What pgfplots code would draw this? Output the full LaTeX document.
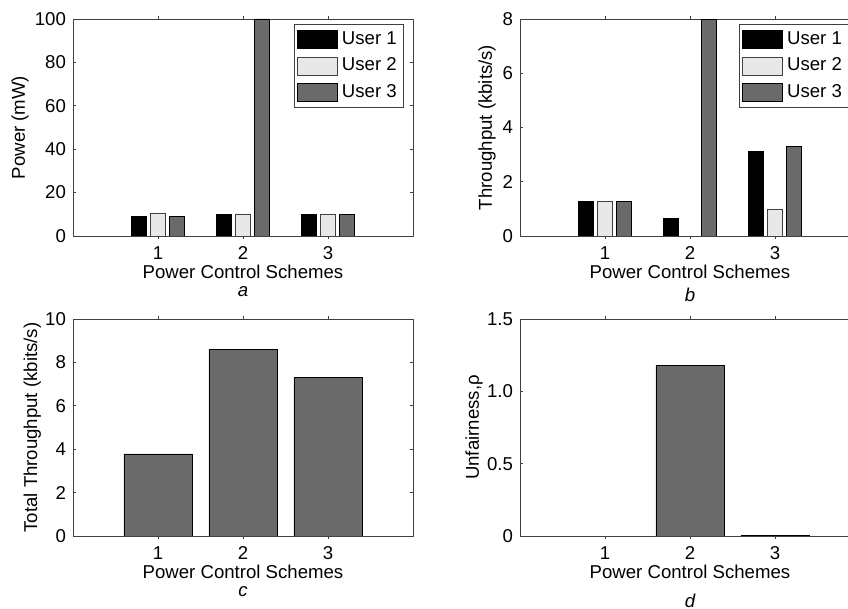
\documentclass[border=0pt]{standalone}
\usepackage{fontspec}
\setmainfont{Liberation Sans}
\usepackage{pgfplots}
\pgfplotsset{compat=1.18}
\definecolor{dgray}{HTML}{6A6A6A}
\definecolor{lgray}{HTML}{E8E8E8}
\definecolor{axgray}{HTML}{404040}
\pgfplotsset{
  mystyle/.style={
    scale only axis, width=170pt, height=108.5pt,
    xmin=0, xmax=4, xtick={1,2,3},
    tick align=inside, major tick length=1.6pt,
    axis line style={axgray},
    every tick/.style={axgray},
    font=\fontsize{9.3}{10}\selectfont,
    /pgf/number format/assume math mode=true,
    ybar, bar width=0.178,
    xlabel={Power Control Schemes},
    xlabel style={at={(axis description cs:0.5,-0.163)}, anchor=center},
    ylabel style={rotate=0, anchor=center},
    legend cell align=left,
    legend image code/.code={\draw[##1] (0pt,-4.5pt) rectangle (20pt,4.5pt);},
    legend style={draw=axgray, font=\fontsize{9.3}{10}\selectfont, inner sep=1.5pt, row sep=1.4pt, cells={anchor=west}},
  },
  sublabel/.style={extra description/.code={\node[font=\fontsize{9.3}{10}\selectfont\itshape] at (axis description cs:0.5,#1) {\pgfkeysvalueof{/pgfplots/sublabeltext}};}},
  sublabeltext/.initial={},
}
\begin{document}
\begin{tikzpicture}
\useasboundingbox (0pt,0pt) rectangle (424pt,304.5pt);
\clip (0pt,0pt) rectangle (424pt,304.5pt);
% panel a
\begin{axis}[mystyle, at={(36.5pt,186.5pt)}, anchor=south west,
  ymin=0, ymax=100, ytick={0,20,40,60,80,100},
  ylabel={Power (mW)},
  ylabel style={at={(axis description cs:-0.156,0.5)}},
  legend style={at={(axis description cs:0.974,0.977)}, anchor=north east},
  sublabeltext={a}, sublabel=-0.255]
\addplot[fill=black, draw=black, bar shift=-0.222] coordinates {(1,8.9) (2,10.1) (3,10.1)};
\addplot[fill=lgray, draw=axgray, bar shift=0] coordinates {(1,10.3) (2,10.1) (3,10.1)};
\addplot[fill=dgray, draw=black, bar shift=0.222] coordinates {(1,8.8) (2,100) (3,10.1)};
\legend{User 1, User 2, User 3}
\end{axis}
% panel b
\begin{axis}[mystyle, at={(260pt,186.5pt)}, anchor=south west,
  ymin=0, ymax=8, ytick={0,2,4,6,8},
  ylabel={Throughput (kbits/s)},
  ylabel style={at={(axis description cs:-0.097,0.5)}},
  legend style={at={(axis description cs:0.644,0.977)}, anchor=north west},
  sublabeltext={b}, sublabel=-0.27]
\addplot[fill=black, draw=black, bar shift=-0.222] coordinates {(1,1.28) (2,0.66) (3,3.13)};
\addplot[fill=lgray, draw=axgray, bar shift=0] coordinates {(1,1.28) (3,0.98)};
\addplot[fill=dgray, draw=black, bar shift=0.222] coordinates {(1,1.28) (2,7.97) (3,3.29)};
\legend{User 1, User 2, User 3}
\end{axis}
% panel c
\begin{axis}[mystyle, at={(36.5pt,36.5pt)}, anchor=south west,
  ymin=0, ymax=10, ytick={0,2,4,6,8,10},
  bar width=0.8,
  ylabel={Total Throughput (kbits/s)},
  ylabel style={at={(axis description cs:-0.12,0.5)}},
  sublabeltext={c}, sublabel=-0.255]
\addplot[fill=dgray, draw=black, bar shift=0] coordinates {(1,3.78) (2,8.59) (3,7.30)};
\end{axis}
% panel d
\begin{axis}[mystyle, at={(260pt,36.5pt)}, anchor=south west,
  ymin=0, ymax=1.5, ytick={0,0.5,1,1.5}, yticklabels={0,0.5,1.0,1.5},
  bar width=0.8,
  ylabel={Unfairness,ρ},
  ylabel style={at={(axis description cs:-0.135,0.5)}},
  sublabeltext={d}, sublabel=-0.30]
\addplot[fill=dgray, draw=black, bar shift=0] coordinates {(2,1.18) (3,0.005)};
\end{axis}
\end{tikzpicture}
\end{document}
